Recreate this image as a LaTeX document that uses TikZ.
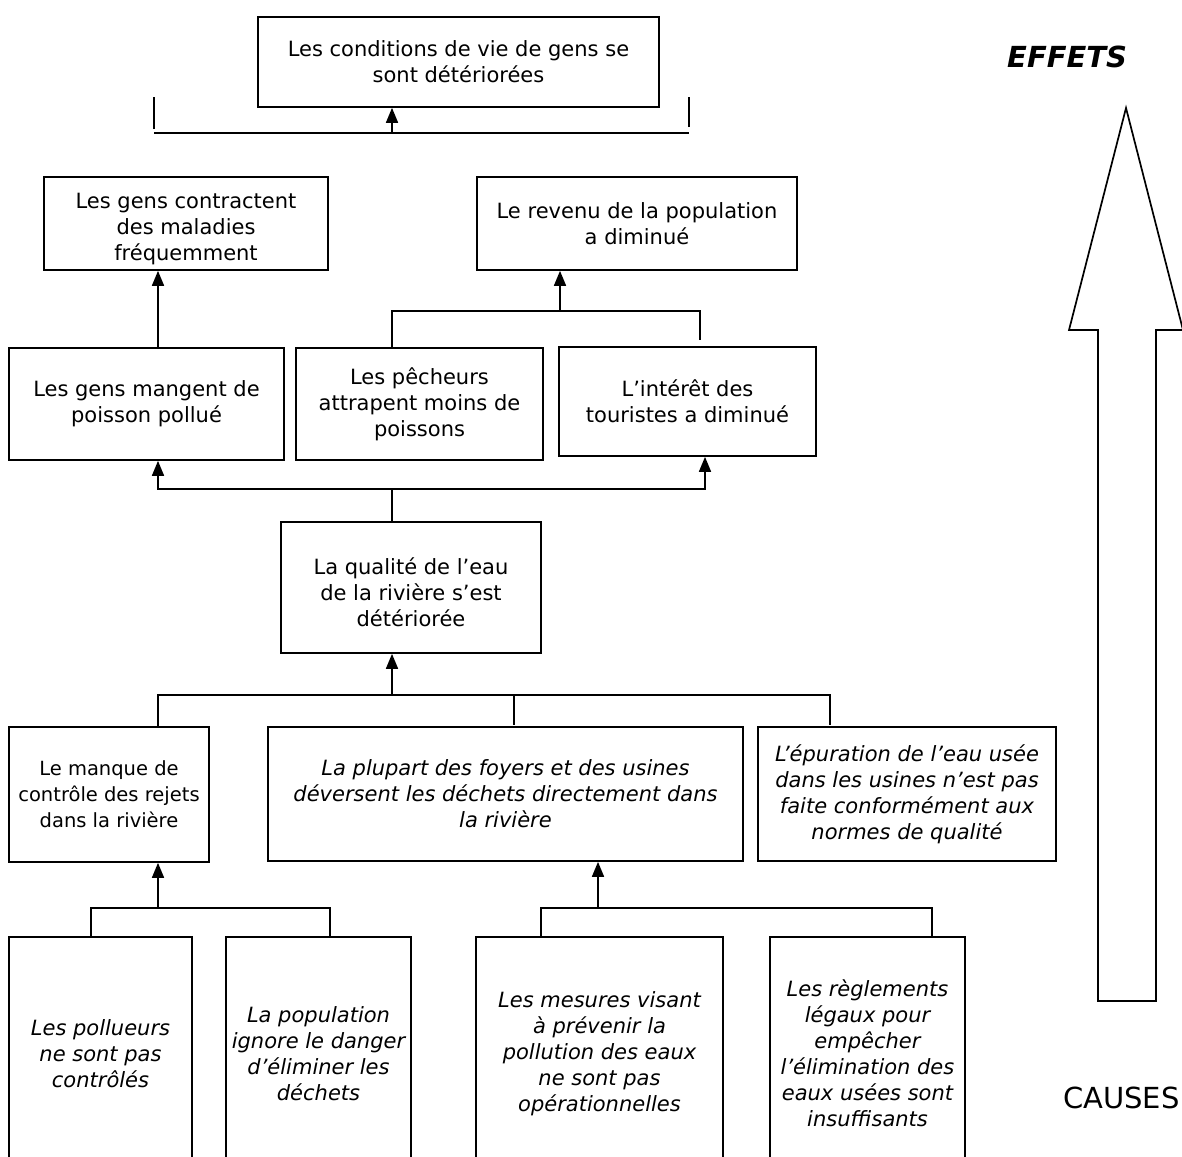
\documentclass[tikz,border=0pt]{standalone}
\usepackage{fontspec}
\setmainfont{DejaVu Sans}
\usetikzlibrary{arrows.meta}
% taller first line, lowers a text block inside its box
\newcommand{\lowerstrut}{\rule{0pt}{26pt}}
\begin{document}
\begin{tikzpicture}[x=1pt,y=-1pt,
  box/.style={draw, line width=1.7pt, inner sep=0pt, align=center,
    font=\fontsize{21}{26}\selectfont},
  ibox/.style={box, font=\fontsize{21}{26}\selectfont\itshape},
  link/.style={line width=1.7pt},
  arr/.style={link, -{Triangle[length=15pt,width=12pt]}},
  tag/.style={inner sep=0pt, anchor=base west}]
\useasboundingbox (0,0) rectangle (1182,1156);
\clip (0,0) rectangle (1182,1156);

% ---- effects ----
\node[box, minimum width=401pt, minimum height=90pt] (top) at (458.5,62)
  {Les conditions de vie de gens se\\sont détériorées};
\node[box, minimum width=284pt, minimum height=93pt] (mal) at (186,223.5)
  {\lowerstrut Les gens contractent\\des maladies\\fréquemment};
\node[box, minimum width=320pt, minimum height=93pt] (rev) at (637,223.5)
  {Le revenu de la population\\a diminué};
\node[box, minimum width=275pt, minimum height=112pt] (mang) at (146.5,404)
  {Les gens mangent de\\poisson pollué};
\node[box, minimum width=247pt, minimum height=112pt] (pech) at (419.5,404)
  {Les pêcheurs\\attrapent moins de\\poissons};
\node[box, minimum width=257pt, minimum height=109pt] (tour) at (687.5,401.5)
  {L’intérêt des\\touristes a diminué};

% ---- core problem ----
\node[box, minimum width=260pt, minimum height=131pt] (qual) at (411,587.5)
  {\lowerstrut La qualité de l’eau\\de la rivière s’est\\détériorée};

% ---- causes ----
\node[box, minimum width=200pt, minimum height=135pt,
      font=\fontsize{19.5}{26}\selectfont] (manq) at (109,794.5)
  {Le manque de\\contrôle des rejets\\dans la rivière};
\node[ibox, minimum width=475pt, minimum height=134pt] (plup) at (505.5,794)
  {La plupart des foyers et des usines\\déversent les déchets directement dans\\la rivière};
\node[ibox, minimum width=298pt, minimum height=134pt] (epur) at (907,794)
  {L’épuration de l’eau usée\\dans les usines n’est pas\\faite conformément aux\\normes de qualité};

\node[ibox, minimum width=183pt, minimum height=233pt] (b1) at (100.5,1053.5)
  {Les pollueurs\\ne sont pas\\contrôlés};
\node[ibox, minimum width=185pt, minimum height=233pt] (b2) at (318.5,1053.5)
  {La population\\ignore le danger\\d’éliminer les\\déchets};
\node[ibox, minimum width=247pt, minimum height=233pt] (b3) at (599.5,1053.5)
  {Les mesures visant\\à prévenir la\\pollution des eaux\\ne sont pas\\opérationnelles};
\node[ibox, minimum width=195pt, minimum height=233pt] (b4) at (867.5,1053.5)
  {Les règlements\\légaux pour\\empêcher\\l’élimination des\\eaux usées sont\\insuffisants};

% ---- connectors ----
% bracket under the top box
\coordinate (bL) at (154,133);
\coordinate (bR) at (689,133);
\coordinate (bM) at (392,133);
\draw[link] (bL) -- (bR);
\draw[link] (bL) ++(0,-4) -- ++(0,-32);
\draw[link] (bR) ++(0,-6) -- ++(0,-30);
\draw[arr] (bM) -- (bM |- top.south);

% disease chain
\coordinate (d) at (158,0);
\draw[arr] (mang.north -| d) -- (mal.south -| d);

% income chain
\coordinate (r1) at (392,311);
\coordinate (r2) at (700,311);
\coordinate (rM) at (560,311);
\draw[link] (pech.north -| r1) -- (r1) -- (r2) -- ++(0,29);
\draw[arr] (rM) -- (rM |- rev.south);

% from water quality to its effects
\coordinate (q) at (392,489);
\coordinate (qL) at (158,489);
\coordinate (qR) at (705,489);
\draw[link] (qual.north -| q) -- (q);
\draw[arr] (q) -- (qL) -- (qL |- mang.south);
\draw[arr] (q) -- (qR) -- (qR |- tour.south);

% direct causes
\coordinate (m) at (392,695);
\coordinate (mL) at (158,695);
\coordinate (mC) at (514,695);
\coordinate (mR) at (830,695);
\draw[arr] (m) -- (m |- qual.south);
\draw[link] (manq.north -| mL) -- (mL) -- (mR) -- ++(0,30);
\draw[link] (mC) -- ++(0,30);

% underlying causes
\coordinate (n1) at (158,908);
\coordinate (n1L) at (91,908);
\coordinate (n1R) at (330,908);
\draw[arr] (n1) -- (n1 |- manq.south);
\draw[link] (b1.north -| n1L) -- (n1L) -- (n1R) -- (n1R |- b2.north);

\coordinate (n2) at (598,908);
\coordinate (n2L) at (541,908);
\coordinate (n2R) at (932,908);
\draw[arr] (n2) -- (n2 |- plup.south);
\draw[link] (b3.north -| n2L) -- (n2L) -- (n2R) -- (n2R |- b4.north);

% ---- causes-to-effects direction ----
\draw[line width=1.7pt, line join=miter]
  (1098,1001) -- (1098,330) -- (1069,330) -- (1126,108) -- (1183,330)
  -- (1156,330) -- (1156,1001) -- cycle;
\node[tag, font=\fontsize{29}{30}\selectfont\bfseries\itshape] (effets) at (1007,67) {EFFETS};
\node[tag, font=\fontsize{29}{30}\selectfont] (causes) at (1063,1108) {CAUSES};
\end{tikzpicture}
\end{document}
